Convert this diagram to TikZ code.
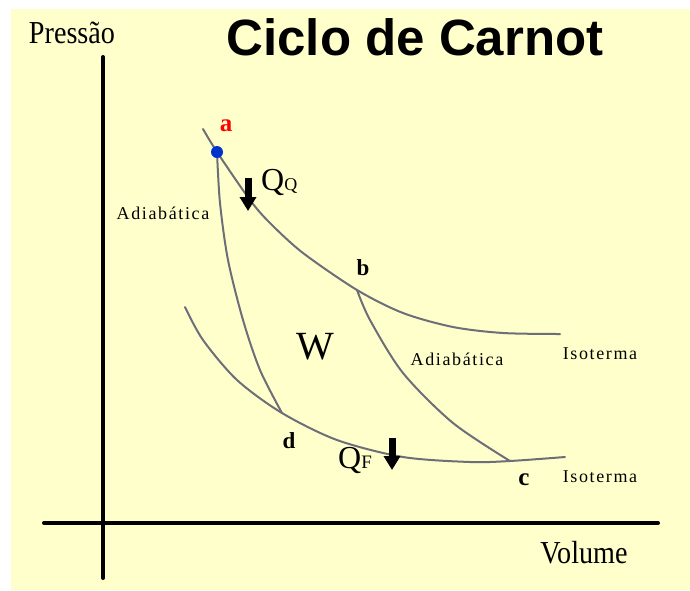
\documentclass[tikz,border=0pt]{standalone}
\usepackage{fontspec}
\setmainfont{Liberation Serif}
\newfontfamily\titlefont{Liberation Sans}
\newfontfamily\axisfont[FakeStretch=0.88]{Liberation Serif}
\newfontfamily\spacedfont[LetterSpace=9]{Liberation Serif}
\usetikzlibrary{arrows.meta}
\definecolor{fundo}{RGB}{255,255,204}
\definecolor{curva}{RGB}{110,110,120}
\definecolor{ponto}{RGB}{0,51,204}
\begin{document}
\begin{tikzpicture}[x=1pt, y=-1pt, line join=round, line cap=round,
	curva/.style={draw=curva, line width=2pt},
	calor/.style={line width=7pt, line cap=butt, -{Triangle[width=16pt,length=14pt]}},
	letra/.style={inner sep=0pt, font=\bfseries\fontsize{23}{23}\selectfont},
	rotulo/.style={inner sep=0pt, font=\spacedfont\fontsize{18}{18}\selectfont}]
	\useasboundingbox (0,0) rectangle (690,590);
	\fill[fundo] (11,9) rectangle (690,590);
	\coordinate (a) at (217,152); \coordinate (b) at (357,290); % estados
	\coordinate (c) at (510,461); \coordinate (d) at (282,413);
	% eixos
	\draw[line width=4pt] (103,57)--(103,578);
	\draw[line width=4pt] (44,523)--(658,523);
	\node (p) at (72,33) {\axisfont\fontsize{32}{32}\selectfont Pressão};
	\node (v) at (584,553) {\axisfont\fontsize{32}{32}\selectfont Volume};
	\node (titulo) at (415,37) {\titlefont\bfseries\fontsize{51}{51}\selectfont Ciclo de Carnot};
	% isotermas e adiabaticas
	\draw[curva] plot[smooth] coordinates {(203,129) (a) (250,200) (270,223) (303,253) (b) (403,313) (453,327) (503,333) (560,334)};
	\draw[curva] plot[smooth] coordinates {(185,307) (203,340) (237,380) (d) (337,440) (403,457) (470,462) (c) (565,457)};
	\draw[curva] plot[smooth] coordinates {(a) (220,203) (228,260) (243,320) (260,370) (d)};
	\draw[curva] plot[smooth] coordinates {(b) (370,320) (403,373) (453,423) (c)};
	\fill[ponto] (a) circle (6pt);
	\node[letra, text=red, font=\bfseries\fontsize{25}{25}\selectfont] (la) at (226,126) {a};
	\node[letra] (lb) at (363,268) {b};
	\node[letra, font=\bfseries\fontsize{25}{25}\selectfont] (lc) at (524,480) {c};
	\node[letra] (ld) at (289,441) {d};
	\node[inner sep=0pt, font=\fontsize{40}{40}\selectfont] (w) at (315,347) {W};
	\node[rotulo] (ad1) at (163,213) {Adiabática};
	\node[rotulo] (ad2) at (457,359) {Adiabática};
	\node[rotulo] (is1) at (600,354) {Isoterma};
	\node[rotulo] (is2) at (600,477) {Isoterma};
	% calor trocado
	\coordinate (qq) at (248,178); \coordinate (qf) at (392,438);
	\draw[calor] (qq) -- ++(0,33);
	\draw[calor] (qf) -- ++(0,32);
	\node[anchor=base west, inner sep=0pt] (lqq) at (261,190) {\fontsize{32}{32}\selectfont Q\fontsize{18}{18}\selectfont Q};
	\node[anchor=base west, inner sep=0pt] (lqf) at (338,468) {\fontsize{32}{32}\selectfont Q\fontsize{19}{19}\selectfont F};
\end{tikzpicture}
\end{document}
